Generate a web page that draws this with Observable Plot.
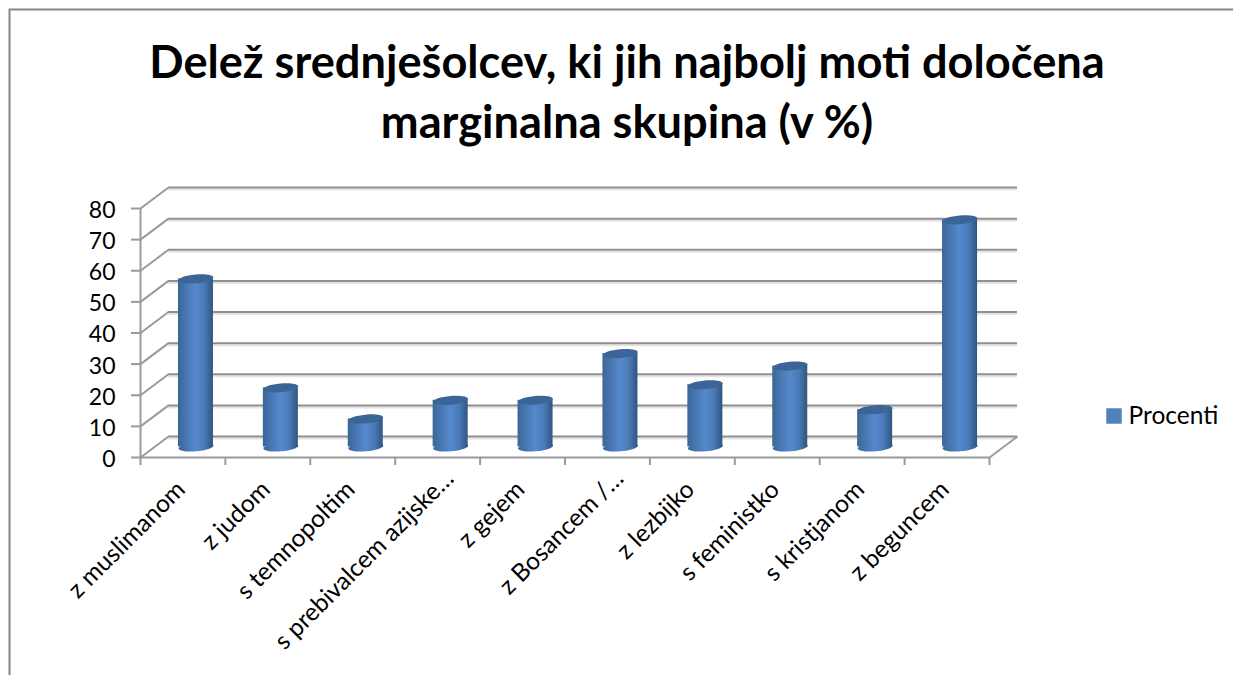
<!DOCTYPE html>
<html>
<head>
<meta charset="utf-8">
<script src="https://cdn.jsdelivr.net/npm/d3@7"></script>
<script src="https://cdn.jsdelivr.net/npm/@observablehq/plot@0.6"></script>
<style>html,body{margin:0;padding:0;background:#fff;overflow:hidden}</style>
</head>
<body>
<div id="chart"></div>
<script>
const categories = ["z muslimanom","z judom","s temnopoltim","s prebivalcem azijske…","z gejem","z Bosancem /…","z lezbijko","s feministko","s kristjanom","z beguncem"];
const values = [54,19,9,15,15,30,20,26,12,73];
const yTicks = [0,10,20,30,40,50,60,70,80];
const xEdges = [0,1,2,3,4,5,6,7,8,9,10];
const titleText = "Delež srednješolcev, ki jih najbolj moti določena\nmarginalna skupina (v %)";
const seriesName = ["Procenti"];

const rows = categories.map((category, i) => ({category, value: values[i], pos: i + 0.5}));
const isCut = d => d.category.endsWith("…");

const FONT = "Lato, Carlito, 'Open Sans', sans-serif";
const GRID = "#8f8f8f";
const plotLeft = 140, plotRight = 989, plotTop = 208, plotBottom = 457;
const pxX = (plotRight - plotLeft) / 10, pxY = (plotBottom - plotTop) / 80;
const depthPxX = 28, depthPxY = 21;
const depthX = depthPxX / pxX, depthY = depthPxY / pxY;
const halfWidth = 17.5 / pxX;

// A slightly tilted ellipse, the cap of a cylinder seen from above.
const capSymbol = {
  draw(ctx, size) {
    const rx = Math.sqrt(size / Math.PI), ry = rx * 0.25, a = -5 * Math.PI / 180, k = 0.5523;
    const P = (u, v) => [u * rx * Math.cos(a) - v * ry * Math.sin(a), u * rx * Math.sin(a) + v * ry * Math.cos(a)];
    ctx.moveTo(...P(1, 0));
    ctx.bezierCurveTo(...P(1, k), ...P(k, 1), ...P(0, 1));
    ctx.bezierCurveTo(...P(-k, 1), ...P(-1, k), ...P(-1, 0));
    ctx.bezierCurveTo(...P(-1, -k), ...P(-k, -1), ...P(0, -1));
    ctx.bezierCurveTo(...P(k, -1), ...P(1, -k), ...P(1, 0));
    ctx.closePath();
  }
};

const gradient = () => {
  const svg = d3.create("svg:g");
  const g = svg.append("defs").append("linearGradient").attr("id", "cyl").attr("x1", 0).attr("x2", 1).attr("y1", 0).attr("y2", 0);
  [[0, "#3b6695"], [0.22, "#4776b0"], [0.5, "#5589cd"], [0.75, "#4a7bb8"], [1, "#2f5580"]].forEach(([o, c]) =>
    g.append("stop").attr("offset", o).attr("stop-color", c));
  return svg.node();
};

const barShift = {dx: 13, dy: -10.5};
const labelStyle = {x: "pos", y: 0, text: "category", rotate: -45, textAnchor: "end", lineAnchor: "middle", fontSize: 24.5, fill: "#000"};

const chart = Plot.plot({
  width: 1233, height: 675,
  marginLeft: plotLeft, marginRight: 1233 - plotRight, marginTop: plotTop, marginBottom: 675 - plotBottom,
  style: {fontFamily: FONT, background: "#fff", color: "#000"},
  x: {domain: [0, 10]},
  y: {domain: [0, 80]},
  marks: [
    gradient,
    Plot.frame({insetLeft: -131, insetTop: -199, insetRight: -300, insetBottom: -300, stroke: "#868686", strokeWidth: 2}),
    // back wall and floor
    Plot.ruleY(yTicks, {x1: 0, x2: 10, dx: depthPxX, dy: -depthPxY + 2, stroke: "#e4e4e4", strokeWidth: 2}),
    Plot.ruleY(yTicks, {x1: 0, x2: 10, dx: depthPxX, dy: -depthPxY, stroke: GRID, strokeWidth: 2}),
    Plot.link(yTicks, {x1: 0, x2: depthX, y1: d => d, y2: d => d + depthY, stroke: "#9a9a9a", strokeWidth: 2}),
    Plot.link([0], {x1: 10, x2: 10 + depthX, y1: 0, y2: depthY, stroke: "#9a9a9a", strokeWidth: 2}),
    // front axes
    Plot.ruleX([0], {y1: 0, y2: 80, stroke: "#9a9a9a", strokeWidth: 2}),
    Plot.ruleY([0], {x1: 0, x2: 10, stroke: "#9a9a9a", strokeWidth: 2}),
    Plot.axisY(yTicks, {anchor: "left", tickSize: 9, stroke: "#9a9a9a", strokeWidth: 2, tickFormat: () => "", label: null}),
    Plot.axisY(yTicks, {anchor: "left", tickSize: 0, tickPadding: 25, dy: 2, fontSize: 23, fill: "#000", label: null}),
    Plot.axisX(xEdges, {anchor: "bottom", tickSize: 8, stroke: "#9a9a9a", strokeWidth: 2, tickFormat: () => "", label: null}),
    // cylinders
    Plot.dot(rows, {x: "pos", y: 0, r: 17.5, symbol: capSymbol, fill: "url(#cyl)", stroke: "none", ...barShift}),
    Plot.rect(rows, {x1: d => d.pos - halfWidth, x2: d => d.pos + halfWidth, y1: 0, y2: "value", fill: "url(#cyl)", ...barShift}),
    Plot.dot(rows, {x: "pos", y: "value", r: 17.5, symbol: capSymbol, fill: "#3a6596", stroke: "none", ...barShift}),
    // category labels: the shortened ones sit a little further up and right
    Plot.text(rows.filter(d => !isCut(d)), {...labelStyle, dx: -2, dy: 28}),
    Plot.text(rows.filter(isCut), {...labelStyle, dx: 12, dy: 17}),
    // title
    Plot.text([titleText], {frameAnchor: "top", text: d => d, dx: 62, dy: -173, fontSize: 45.2, fontWeight: 700, lineHeight: 1.327, fill: "#000", lineAnchor: "top"}),
    // legend
    Plot.dot(seriesName, {frameAnchor: "top-left", symbol: "square", r: 8.7, fill: "#4f81bd", stroke: "none", dx: 1113.5 - plotLeft, dy: 415.5 - plotTop}),
    Plot.text(seriesName, {frameAnchor: "top-left", text: d => d, textAnchor: "start", lineAnchor: "middle", fontSize: 24.5, fill: "#000", dx: 1128 - plotLeft, dy: 416 - plotTop})
  ]
});
document.getElementById("chart").append(chart);
</script>
</body>
</html>
